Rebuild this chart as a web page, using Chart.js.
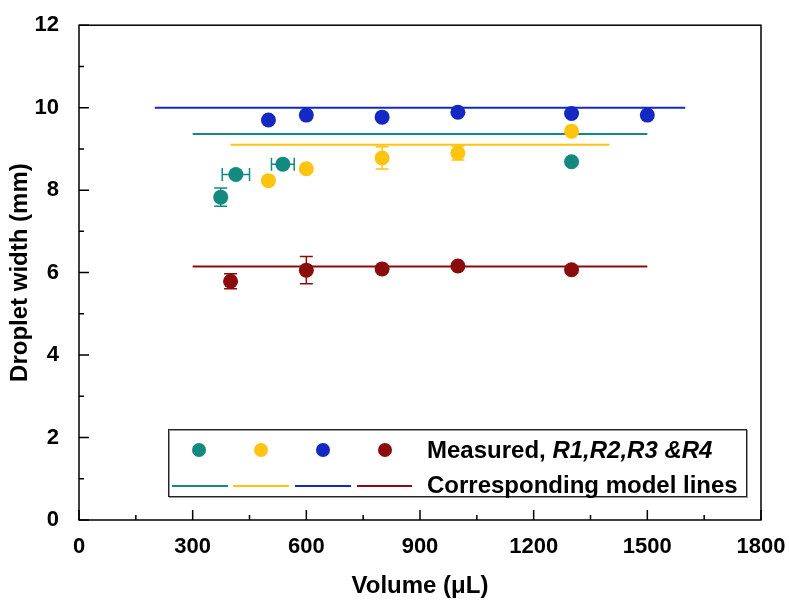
<!DOCTYPE html>
<html>
<head>
<meta charset="utf-8">
<title>Droplet width vs volume</title>
<script src="https://cdn.jsdelivr.net/npm/chart.js@4/dist/chart.umd.min.js"></script>
<style>
  html, body { margin: 0; padding: 0; background: #ffffff; }
  #wrap { width: 789px; height: 603px; position: relative; }
</style>
</head>
<body>
<div id="wrap"><canvas id="chart"></canvas></div>
<script>
// Measured droplet widths (mm) versus droplet volume (µL), four regimes R1–R4
const r1Volume    = [374, 414, 538, 1300];
const r1Width     = [7.83, 8.38, 8.63, 8.69];
const r1WidthErr  = [0.22, 0, 0, 0];
const r1VolumeErr = [0, 36, 30, 0];

const r2Volume    = [500, 600, 800, 1000, 1300];
const r2Width     = [8.23, 8.52, 8.78, 8.90, 9.43];
const r2WidthErr  = [0, 0, 0.27, 0.17, 0];
const r2VolumeErr = [0, 0, 0, 0, 0];

const r3Volume    = [500, 600, 800, 1000, 1300, 1500];
const r3Width     = [9.70, 9.82, 9.77, 9.89, 9.86, 9.82];
const r3WidthErr  = [0, 0, 0, 0, 0, 0];
const r3VolumeErr = [0, 0, 0, 0, 0, 0];

const r4Volume    = [400, 600, 800, 1000, 1300];
const r4Width     = [5.79, 6.06, 6.09, 6.16, 6.07];
const r4WidthErr  = [0.18, 0.33, 0, 0, 0];
const r4VolumeErr = [0, 0, 0, 0, 0];

// Model lines: constant width over a volume range
const modelStart = [300, 400, 200, 300];
const modelEnd   = [1500, 1400, 1600, 1500];
const modelWidth = [9.36, 9.10, 10.0, 6.15];

const seriesNames  = ['R1', 'R2', 'R3', 'R4'];
const seriesColors = ['#138a80', '#ffc410', '#1428c4', '#8b0c0c'];

const xTickValues = [0, 300, 600, 900, 1200, 1500, 1800];
const yTickValues = [0, 2, 4, 6, 8, 10, 12];

const FONT = '"Liberation Sans", Arial, Helvetica, sans-serif';

const measured = [
  { v: r1Volume, w: r1Width, we: r1WidthErr, ve: r1VolumeErr },
  { v: r2Volume, w: r2Width, we: r2WidthErr, ve: r2VolumeErr },
  { v: r3Volume, w: r3Width, we: r3WidthErr, ve: r3VolumeErr },
  { v: r4Volume, w: r4Width, we: r4WidthErr, ve: r4VolumeErr }
];

const datasets = [];
measured.forEach((s, i) => {
  datasets.push({
    label: 'Measured ' + seriesNames[i],
    kind: 'measured',
    data: s.v.map((v, k) => ({ x: v, y: s.w[k], xErr: s.ve[k], yErr: s.we[k] })),
    showLine: false,
    pointRadius: 7.5,
    pointHoverRadius: 7.5,
    pointBackgroundColor: seriesColors[i],
    pointBorderWidth: 0,
    borderColor: seriesColors[i],
    order: 1
  });
});
modelWidth.forEach((w, i) => {
  datasets.push({
    label: 'Model ' + seriesNames[i],
    kind: 'model',
    data: [{ x: modelStart[i], y: w }, { x: modelEnd[i], y: w }],
    showLine: true,
    pointRadius: 0,
    borderColor: seriesColors[i],
    borderWidth: 2,
    order: 2
  });
});

// Error bars, drawn under the markers
const errorBars = {
  id: 'errorBars',
  beforeDatasetsDraw(chart) {
    const { ctx, scales: { x, y } } = chart;
    ctx.save();
    ctx.lineWidth = 1.5;
    const cap = 6.5;
    chart.data.datasets.forEach(ds => {
      if (ds.kind !== 'measured') return;
      ctx.strokeStyle = ds.borderColor;
      ds.data.forEach(p => {
        const px = x.getPixelForValue(p.x), py = y.getPixelForValue(p.y);
        if (p.yErr > 0) {
          const t = y.getPixelForValue(p.y + p.yErr), b = y.getPixelForValue(p.y - p.yErr);
          ctx.beginPath();
          ctx.moveTo(px, t); ctx.lineTo(px, b);
          ctx.moveTo(px - cap, t); ctx.lineTo(px + cap, t);
          ctx.moveTo(px - cap, b); ctx.lineTo(px + cap, b);
          ctx.stroke();
        }
        if (p.xErr > 0) {
          const l = x.getPixelForValue(p.x - p.xErr), r = x.getPixelForValue(p.x + p.xErr);
          ctx.beginPath();
          ctx.moveTo(l, py); ctx.lineTo(r, py);
          ctx.moveTo(l, py - cap); ctx.lineTo(l, py + cap);
          ctx.moveTo(r, py - cap); ctx.lineTo(r, py + cap);
          ctx.stroke();
        }
      });
    });
    ctx.restore();
  }
};

// Closed frame with inward major and minor ticks on the bottom and left axes
const frame = {
  id: 'frame',
  afterDatasetsDraw(chart) {
    const { ctx, chartArea: a, scales: { x, y } } = chart;
    ctx.save();
    ctx.strokeStyle = '#000';
    ctx.lineWidth = 1.5;
    ctx.strokeRect(a.left, a.top, a.right - a.left, a.bottom - a.top);
    ctx.beginPath();
    for (let k = 0; k < xTickValues.length; k++) {
      const v = xTickValues[k];
      const px = x.getPixelForValue(v);
      ctx.moveTo(px, a.bottom); ctx.lineTo(px, a.bottom - 10);
      if (k < xTickValues.length - 1) {
        const m = x.getPixelForValue((v + xTickValues[k + 1]) / 2);
        ctx.moveTo(m, a.bottom); ctx.lineTo(m, a.bottom - 5);
      }
    }
    for (let k = 0; k < yTickValues.length; k++) {
      const v = yTickValues[k];
      const py = y.getPixelForValue(v);
      ctx.moveTo(a.left, py); ctx.lineTo(a.left + 10, py);
      if (k < yTickValues.length - 1) {
        const m = y.getPixelForValue((v + yTickValues[k + 1]) / 2);
        ctx.moveTo(a.left, m); ctx.lineTo(a.left + 5, m);
      }
    }
    ctx.stroke();
    ctx.restore();
  }
};

// Two-row legend: markers for measured data, short segments for model lines
const legendBox = {
  id: 'legendBox',
  afterDraw(chart) {
    const { ctx } = chart;
    const L = 168, T = 429, R = 746, B = 496;
    ctx.save();
    ctx.fillStyle = '#fff';
    ctx.fillRect(L, T, R - L, B - T);
    ctx.strokeStyle = '#999';
    ctx.lineWidth = 1;
    ctx.strokeRect(L + 1.5, T + 1.5, R - L, B - T);
    ctx.strokeStyle = '#222';
    ctx.strokeRect(L + 0.5, T + 0.5, R - L, B - T);

    const markerX = [199, 261, 323, 385];
    const segStart = [172, 233, 295, 357];
    const segEnd = [228, 289, 351, 412];
    const row1 = 450, row2 = 486;
    seriesColors.forEach((c, i) => {
      ctx.fillStyle = c;
      ctx.beginPath();
      ctx.arc(markerX[i], row1, 7, 0, Math.PI * 2);
      ctx.fill();
      ctx.strokeStyle = c;
      ctx.lineWidth = 2;
      ctx.beginPath();
      ctx.moveTo(segStart[i], row2); ctx.lineTo(segEnd[i], row2);
      ctx.stroke();
    });

    ctx.fillStyle = '#000';
    ctx.textBaseline = 'middle';
    ctx.textAlign = 'left';
    const tx = 427;
    ctx.font = 'bold 24px ' + FONT;
    const lead = 'Measured, ';
    ctx.fillText(lead, tx, row1 + 1);
    const w = ctx.measureText(lead).width;
    ctx.font = 'italic bold 24px ' + FONT;
    ctx.fillText(seriesNames.join(',').replace(',R4', ' &R4'), tx + w, row1 + 1);
    ctx.font = 'bold 24px ' + FONT;
    ctx.fillText('Corresponding model lines', tx, row2);
    ctx.restore();
  }
};

new Chart(document.getElementById('chart'), {
  type: 'scatter',
  data: { datasets },
  options: {
    responsive: true,
    maintainAspectRatio: false,
    animation: false,
    events: [],
    layout: { padding: { top: 20, right: 28, left: 0, bottom: 0 } },
    plugins: { legend: { display: false }, tooltip: { enabled: false } },
    scales: {
      x: {
        type: 'linear',
        min: 0, max: 1800,
        afterBuildTicks: s => { s.ticks = xTickValues.map(v => ({ value: v })); },
        afterFit: s => { s.height = 83; s.paddingRight = 0; s.paddingLeft = 0; },
        grid: { display: false },
        border: { display: false },
        ticks: {
          color: '#000', padding: 6, maxRotation: 0,
          callback: v => String(v),
          font: { family: FONT, size: 22, weight: 'bold' }
        },
        title: {
          display: true, text: 'Volume (\u03bcL)', color: '#000',
          padding: { top: 5, bottom: 5 },
          font: { family: FONT, size: 24, weight: 'bold', lineHeight: 1 }
        }
      },
      y: {
        type: 'linear',
        min: 0, max: 12,
        afterBuildTicks: s => { s.ticks = yTickValues.map(v => ({ value: v })); },
        afterFit: s => { s.width = 79; },
        grid: { display: false },
        border: { display: false },
        ticks: { color: '#000', padding: 12, font: { family: FONT, size: 22, weight: 'bold' } },
        title: {
          display: true, text: 'Droplet width (mm)', color: '#000',
          padding: { top: 8, bottom: 8 },
          font: { family: FONT, size: 24, weight: 'bold', lineHeight: 1 }
        }
      }
    }
  },
  plugins: [errorBars, frame, legendBox]
});
</script>
</body>
</html>
